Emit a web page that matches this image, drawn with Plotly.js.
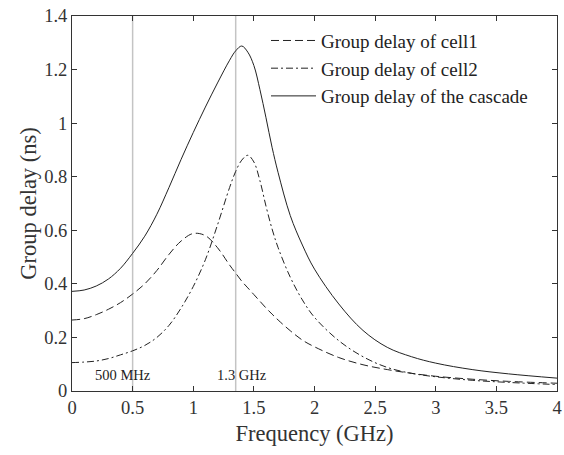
<!DOCTYPE html>
<html>
<head>
<meta charset="utf-8">
<script src="https://cdn.plot.ly/plotly-3.0.1.min.js"></script>
<style>
  html, body { margin: 0; padding: 0; background: #fff; }
  #chart { width: 564px; height: 455px; }
</style>
</head>
<body>
<div id="chart"></div>
<script>
// Frequency samples (GHz)
const freq = [0, 0.1, 0.2, 0.3, 0.4, 0.5, 0.6, 0.7, 0.8, 0.9, 1.0, 1.1, 1.2, 1.3, 1.35, 1.4, 1.45, 1.5, 1.55, 1.6, 1.65, 1.7, 1.8, 1.9, 2.0, 2.2, 2.4, 2.6, 2.8, 3.0, 3.3, 3.6, 4.0];

// Group delay of cell 1 (ns)
const cell1 = [0.265, 0.27, 0.285, 0.305, 0.33, 0.362, 0.40, 0.45, 0.51, 0.56, 0.588, 0.58, 0.535, 0.47, 0.44, 0.41, 0.385, 0.36, 0.335, 0.31, 0.287, 0.265, 0.225, 0.19, 0.165, 0.125, 0.098, 0.08, 0.066, 0.055, 0.044, 0.036, 0.029];

// Group delay of cell 2 (ns)
const cell2 = [0.106, 0.108, 0.112, 0.121, 0.135, 0.150, 0.17, 0.20, 0.245, 0.31, 0.39, 0.49, 0.62, 0.76, 0.82, 0.862, 0.88, 0.855, 0.785, 0.69, 0.605, 0.535, 0.425, 0.34, 0.275, 0.188, 0.128, 0.088, 0.066, 0.053, 0.04, 0.032, 0.024];

// Group delay of the cascade (ns)
const cascade = [0.372, 0.377, 0.392, 0.418, 0.458, 0.514, 0.578, 0.66, 0.76, 0.865, 0.965, 1.06, 1.15, 1.235, 1.27, 1.288, 1.265, 1.215, 1.125, 1.02, 0.91, 0.815, 0.655, 0.545, 0.455, 0.325, 0.226, 0.163, 0.128, 0.104, 0.08, 0.064, 0.048];

// Marker frequencies and labels
const markerFreq = [0.5, 1.35];
const markerLabels = ['500 MHz', '1.3 GHz'];
const markerLabelX = [0.42, 1.4];
const markerLabelY = 0.06;

const xTicks = [0, 0.5, 1, 1.5, 2, 2.5, 3, 3.5, 4];
const xTickText = ['0', '0.5', '1', '1.5', '2', '2.5', '3', '3.5', '4'];
const yTicks = [0, 0.2, 0.4, 0.6, 0.8, 1, 1.2, 1.4];
const yTickText = ['0', '0.2', '0.4', '0.6', '0.8', '1', '1.2', '1.4'];

const serif = '"Liberation Serif", "Times New Roman", Times, serif';

const traces = [
  { x: freq, y: cell1, name: 'Group delay of cell1', mode: 'lines',
    line: { color: '#222', width: 1, dash: '8px,4px', shape: 'spline', smoothing: 1 } },
  { x: freq, y: cell2, name: 'Group delay of cell2', mode: 'lines',
    line: { color: '#222', width: 1, dash: '7px,3px,2px,3px', shape: 'spline', smoothing: 1 } },
  { x: freq, y: cascade, name: 'Group delay of the cascade', mode: 'lines',
    line: { color: '#222', width: 1, shape: 'spline', smoothing: 1 } }
];

const shapes = markerFreq.map(f => ({
  type: 'line', xref: 'x', yref: 'paper', x0: f, x1: f, y0: 0, y1: 1,
  line: { color: '#c4c4c4', width: 1.5 }, layer: 'below'
}));

const annotations = markerLabels.map((t, i) => ({
  x: markerLabelX[i], y: markerLabelY, xref: 'x', yref: 'y', text: t,
  showarrow: false, font: { family: serif, size: 14.5, color: '#222' }
}));

const axisCommon = {
  showgrid: false, zeroline: false, showline: true, linecolor: '#333', linewidth: 1,
  mirror: 'ticks', ticks: 'inside', ticklen: 5, tickcolor: '#333',
  tickfont: { family: serif, size: 18.5, color: '#333' }
};

const layout = {
  width: 564, height: 455,
  margin: { l: 72, r: 7, t: 16, b: 64 },
  paper_bgcolor: '#fff', plot_bgcolor: '#fff',
  font: { family: serif },
  showlegend: true,
  legend: {
    x: 0.4, y: 0.985, xanchor: 'left', yanchor: 'top',
    bgcolor: 'rgba(0,0,0,0)', borderwidth: 0, itemwidth: 45,
    font: { family: serif, size: 19, color: '#222' }
  },
  xaxis: Object.assign({}, axisCommon, {
    range: [0, 4], tickvals: xTicks, ticktext: xTickText,
    title: { text: 'Frequency (GHz)', font: { family: serif, size: 22.5, color: '#333' }, standoff: 8 }
  }),
  yaxis: Object.assign({}, axisCommon, {
    range: [0, 1.4], tickvals: yTicks, ticktext: yTickText,
    title: { text: 'Group delay (ns)', font: { family: serif, size: 22.5, color: '#333' }, standoff: 1 }
  }),
  shapes: shapes,
  annotations: annotations
};

Plotly.newPlot('chart', traces, layout, { displayModeBar: false, staticPlot: true });
</script>
</body>
</html>
